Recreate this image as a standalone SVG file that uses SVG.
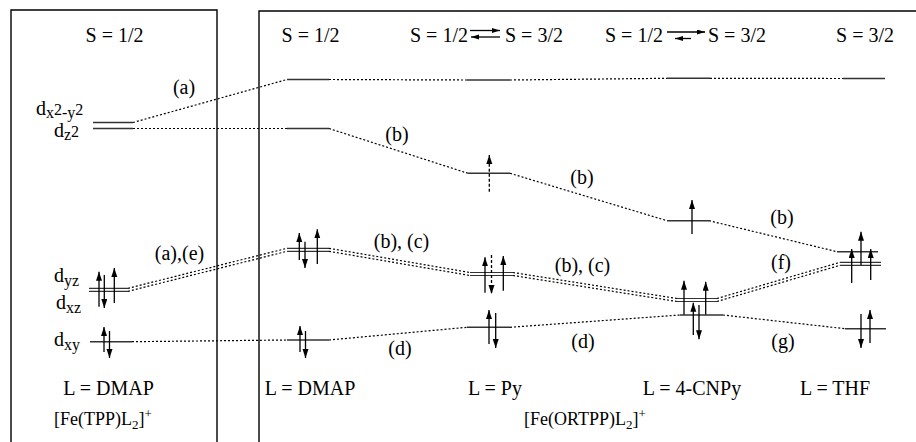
<svg xmlns="http://www.w3.org/2000/svg" width="916" height="442" viewBox="0 0 916 442">
<defs>
<marker id="ah" markerUnits="userSpaceOnUse" markerWidth="10" markerHeight="7" refX="9" refY="3" orient="auto"><path d="M0,0 L9,3 L0,6 z" fill="#000"/></marker>
<marker id="eh" markerUnits="userSpaceOnUse" markerWidth="9" markerHeight="6" refX="8" refY="2.5" orient="auto"><path d="M0,0 L8,2.5 L0,5 z" fill="#000"/></marker>
</defs>
<style>
text { font-family: "Liberation Serif", "Times New Roman", serif; font-size: 20px; fill: #000; }
.sm { font-size: 16px; }
.fs { font-size: 18px; }
.ss { font-size: 13px; }
.lv { stroke: #333; stroke-width: 1.5; fill: none; }
.lv2 { stroke: #333; stroke-width: 1.2; fill: none; }
.sp { stroke: #000; stroke-width: 1.3; fill: none; marker-end: url(#ah); }
.spd { stroke-dasharray: 3 2; }
.dot { stroke: #000; stroke-width: 1.2; stroke-dasharray: 2 2; fill: none; }
.box { stroke: #000; stroke-width: 1.4; fill: none; }
.eq { stroke: #000; stroke-width: 1.3; fill: none; marker-end: url(#eh); }
</style>

<g id="frames">
<path class="box" d="M11,442 V10 H217 V442"/>
<path class="box" d="M259,442 V11 H916"/>
</g>

<g id="headers">
<text x="114.5" y="41.5" text-anchor="middle">S = 1/2</text>
<text x="310.5" y="41.5" text-anchor="middle">S = 1/2</text>
<text x="410" y="41.5">S = 1/2</text>
<text x="505" y="41.5">S = 3/2</text>
<line class="eq" x1="470" y1="30.5" x2="500" y2="30.5"/>
<line class="eq" x1="500" y1="37" x2="471" y2="37"/>
<text x="605" y="41.5">S = 1/2</text>
<text x="708" y="41.5">S = 3/2</text>
<line class="eq" x1="667" y1="32" x2="705" y2="32"/>
<line class="eq" x1="691" y1="38.5" x2="675" y2="38.5"/>
<text x="865" y="41.5" text-anchor="middle">S = 3/2</text>
</g>

<g id="orbital-labels">
<text x="36" y="115">d<tspan class="sm" dy="3">x</tspan><tspan class="sm" dy="-3">2</tspan><tspan class="sm" dy="3">-y</tspan><tspan class="sm" dy="-3">2</tspan></text>
<text x="54" y="137">d<tspan class="sm" dy="3">z</tspan><tspan class="sm" dy="-3">2</tspan></text>
<text x="54" y="282">d<tspan class="sm" dy="4">yz</tspan></text>
<text x="56" y="309">d<tspan class="sm" dy="4">xz</tspan></text>
<text x="54" y="346">d<tspan class="sm" dy="4">xy</tspan></text>
</g>

<g id="tpp-dmap">
<line class="lv" x1="93" y1="122.5" x2="133" y2="122.5"/>
<line class="lv" x1="93" y1="128.5" x2="133" y2="128.5"/>
<line class="lv2" x1="89" y1="288.3" x2="128" y2="288.3"/>
<line class="lv2" x1="89" y1="291.3" x2="128" y2="291.3"/>
<line class="sp" x1="99" y1="306.7" x2="99" y2="271.7"/>
<line class="sp" x1="104.3" y1="275" x2="104.3" y2="308"/>
<line class="sp" x1="114.3" y1="303" x2="114.3" y2="268"/>
<line class="lv" x1="90" y1="341.7" x2="132" y2="341.7"/>
<line class="sp" x1="104" y1="352" x2="104" y2="327"/>
<line class="sp" x1="109.5" y1="331" x2="109.5" y2="358"/>
<text x="108.5" y="395" text-anchor="middle">L = DMAP</text>
<text class="fs" x="54" y="425">[Fe(TPP)L<tspan class="ss" dy="4">2</tspan><tspan dy="-4">]</tspan><tspan class="ss" dy="-7">+</tspan></text>
</g>

<g id="ortpp-dmap">
<line class="lv" x1="287" y1="79.5" x2="329" y2="79.5"/>
<line class="lv" x1="287" y1="128.5" x2="329" y2="128.5"/>
<line class="lv2" x1="287" y1="248.3" x2="329" y2="248.3"/>
<line class="lv2" x1="287" y1="251.3" x2="329" y2="251.3"/>
<line class="sp" x1="299.3" y1="260" x2="299.3" y2="233"/>
<line class="sp" x1="305" y1="241.7" x2="305" y2="268"/>
<line class="sp" x1="317.3" y1="264" x2="317.3" y2="229.3"/>
<line class="lv" x1="287" y1="340" x2="329" y2="340"/>
<line class="sp" x1="300" y1="352" x2="300" y2="326"/>
<line class="sp" x1="305.5" y1="331" x2="305.5" y2="358"/>
<text x="310" y="395" text-anchor="middle">L = DMAP</text>
</g>

<g id="ortpp-py">
<line class="lv" x1="467" y1="80" x2="510" y2="80"/>
<line class="lv" x1="468" y1="173.3" x2="510" y2="173.3"/>
<line class="sp spd" x1="489.3" y1="191.7" x2="489.3" y2="155"/>
<line class="lv2" x1="470" y1="272.5" x2="513" y2="272.5"/>
<line class="lv2" x1="470" y1="275.5" x2="513" y2="275.5"/>
<line class="sp" x1="485" y1="292.7" x2="485" y2="257.3"/>
<line class="sp spd" x1="491.5" y1="255" x2="491.5" y2="294"/>
<line class="sp" x1="503.3" y1="290.7" x2="503.3" y2="256"/>
<line class="lv" x1="467" y1="327.3" x2="510" y2="327.3"/>
<line class="sp" x1="489" y1="344" x2="489" y2="310"/>
<line class="sp" x1="495.7" y1="313" x2="495.7" y2="348"/>
<text x="495" y="395" text-anchor="middle">L = Py</text>
</g>

<g id="ortpp-cnpy">
<line class="lv" x1="667" y1="78.3" x2="710" y2="78.3"/>
<line class="lv" x1="667" y1="220.7" x2="709" y2="220.7"/>
<line class="sp" x1="692" y1="234" x2="692" y2="200"/>
<line class="lv2" x1="677" y1="298.5" x2="717" y2="298.5"/>
<line class="lv2" x1="677" y1="301.5" x2="717" y2="301.5"/>
<line class="sp" x1="684" y1="315" x2="684" y2="280.7"/>
<line class="sp" x1="705.7" y1="315" x2="705.7" y2="281.7"/>
<line class="lv" x1="680" y1="315" x2="723" y2="315"/>
<line class="sp" x1="693.3" y1="335" x2="693.3" y2="302.7"/>
<line class="sp" x1="699" y1="305" x2="699" y2="339.3"/>
<text x="692" y="395" text-anchor="middle">L = 4-CNPy</text>
</g>

<g id="ortpp-thf">
<line class="lv" x1="843" y1="78.5" x2="885" y2="78.5"/>
<line class="lv" x1="837" y1="251.7" x2="878" y2="251.7"/>
<line class="lv2" x1="840" y1="262.3" x2="881" y2="262.3"/>
<line class="lv2" x1="840" y1="265.3" x2="881" y2="265.3"/>
<line class="sp" x1="851.7" y1="283" x2="851.7" y2="249"/>
<line class="sp" x1="861" y1="265" x2="861" y2="231.7"/>
<line class="sp" x1="870.7" y1="280" x2="870.7" y2="249"/>
<line class="lv" x1="845" y1="328.7" x2="886" y2="328.7"/>
<line class="sp" x1="861" y1="314" x2="861" y2="348"/>
<line class="sp" x1="870" y1="343" x2="870" y2="310"/>
<text x="835" y="395" text-anchor="middle">L = THF</text>
</g>

<g id="ortpp-title">
<text class="fs" x="585" y="425" text-anchor="middle">[Fe(ORTPP)L<tspan class="ss" dy="4">2</tspan><tspan dy="-4">]</tspan><tspan class="ss" dy="-7">+</tspan></text>
</g>

<g id="connectors">
<line class="dot" x1="133" y1="122.5" x2="287" y2="79.5"/>
<line class="dot" x1="329" y1="79.5" x2="467" y2="80"/>
<line class="dot" x1="510" y1="80" x2="667" y2="78.3"/>
<line class="dot" x1="710" y1="78.3" x2="843" y2="78.5"/>
<line class="dot" x1="133" y1="128.5" x2="287" y2="128.5"/>
<line class="dot" x1="329" y1="128.5" x2="468" y2="173.3"/>
<line class="dot" x1="510" y1="173.3" x2="667" y2="220.7"/>
<line class="dot" x1="709" y1="220.7" x2="837" y2="251.7"/>
<line class="dot" x1="128" y1="288.3" x2="287" y2="248.3"/>
<line class="dot" x1="128" y1="291.3" x2="287" y2="251.3"/>
<line class="dot" x1="329" y1="248.3" x2="470" y2="272.5"/>
<line class="dot" x1="329" y1="251.3" x2="470" y2="275.5"/>
<line class="dot" x1="513" y1="272.5" x2="677" y2="298.5"/>
<line class="dot" x1="513" y1="275.5" x2="677" y2="301.5"/>
<line class="dot" x1="717" y1="298.5" x2="840" y2="262.3"/>
<line class="dot" x1="717" y1="301.5" x2="840" y2="265.3"/>
<line class="dot" x1="132" y1="341.7" x2="287" y2="340"/>
<line class="dot" x1="329" y1="340" x2="467" y2="327.3"/>
<line class="dot" x1="510" y1="327.3" x2="680" y2="315"/>
<line class="dot" x1="723" y1="315" x2="845" y2="328.7"/>
</g>

<g id="connector-labels">
<text x="184" y="94" text-anchor="middle">(a)</text>
<text x="179.5" y="260" text-anchor="middle">(a),(e)</text>
<text x="397" y="141" text-anchor="middle">(b)</text>
<text x="582" y="184" text-anchor="middle">(b)</text>
<text x="782" y="224" text-anchor="middle">(b)</text>
<text x="401.5" y="248" text-anchor="middle">(b), (c)</text>
<text x="582.5" y="272" text-anchor="middle">(b), (c)</text>
<text x="781" y="269" text-anchor="middle">(f)</text>
<text x="400" y="355" text-anchor="middle">(d)</text>
<text x="583" y="348" text-anchor="middle">(d)</text>
<text x="783" y="348" text-anchor="middle">(g)</text>
</g>
</svg>
